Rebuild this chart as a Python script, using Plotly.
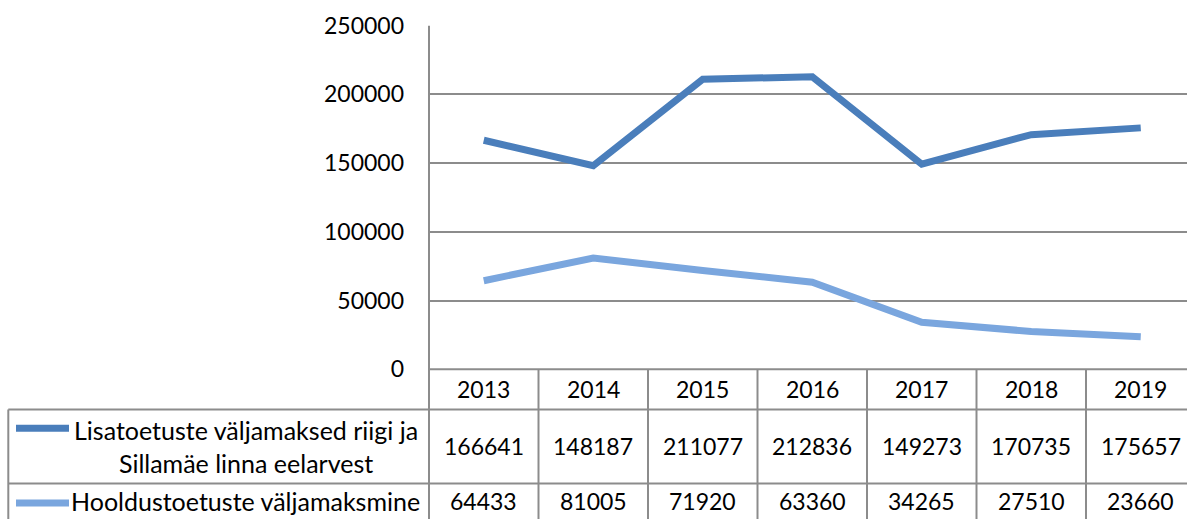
import plotly.graph_objects as go

years = ["2013", "2014", "2015", "2016", "2017", "2018", "2019"]
series1_name = "Lisatoetuste väljamaksed riigi ja<br>Sillamäe linna eelarvest"
series1 = [166641, 148187, 211077, 212836, 149273, 170735, 175657]
series2_name = "Hooldustoetuste väljamaksmine"
series2 = [64433, 81005, 71920, 63360, 34265, 27510, 23660]
yticks = [0, 50000, 100000, 150000, 200000, 250000]

W, H = 1187, 519
C1 = "#4a7ebb"
C2 = "#7aa6de"
GRID = "#8c8c8c"
FONT = "Lato"
FS = 23
FS_LBL = 25

def px(x):
    return x / W

def py(y):
    return 1 - y / H

fig = go.Figure()
xs = list(range(len(years)))
fig.add_trace(go.Scatter(x=xs, y=series1, mode="lines",
                         line=dict(color=C1, width=7), showlegend=False))
fig.add_trace(go.Scatter(x=xs, y=series2, mode="lines",
                         line=dict(color=C2, width=7), showlegend=False))

shapes = []
ann = []
top_y, zero_y, r1_y, r2_y = 25.7, 369.3, 409.5, 483.5
left_x, col_x = 8.3, 429

shapes.append(dict(type="line", xref="paper", yref="paper", x0=px(col_x), x1=1,
                   y0=py(zero_y), y1=py(zero_y), line=dict(color=GRID, width=2)))
for yy in (r1_y, r2_y):
    shapes.append(dict(type="line", xref="paper", yref="paper", x0=px(left_x), x1=1,
                       y0=py(yy), y1=py(yy), line=dict(color=GRID, width=2)))
shapes.append(dict(type="line", xref="paper", yref="paper", x0=px(left_x), x1=px(left_x),
                   y0=py(r1_y), y1=0, line=dict(color=GRID, width=2)))
shapes.append(dict(type="line", xref="paper", yref="paper", x0=px(col_x), x1=px(col_x),
                   y0=py(top_y), y1=0, line=dict(color=GRID, width=2)))
for i in range(1, len(years)):
    shapes.append(dict(type="line", xref="x", yref="paper", x0=i - 0.5, x1=i - 0.5,
                       y0=py(zero_y), y1=0, line=dict(color=GRID, width=2)))

for yy, c in ((428.3, C1), (503, C2)):
    shapes.append(dict(type="line", xref="paper", yref="paper", x0=px(16), x1=px(69),
                       y0=py(yy), y1=py(yy), line=dict(color=c, width=7)))

def txt(x, y, t, xref="x", size=FS):
    return dict(x=x, y=y, xref=xref, yref="paper", text=t, showarrow=False,
                xanchor="center", yanchor="middle", align="center",
                font=dict(family=FONT, size=size, color="black"))

for i, yr in enumerate(years):
    ann.append(txt(i, py(389), yr))
    ann.append(txt(i, py(446), str(series1[i])))
    ann.append(txt(i, py(501), str(series2[i])))

ann.append(txt(px(245.5), py(446), series1_name, xref="paper", size=FS_LBL))
ann.append(txt(px(245.5), py(501), series2_name, xref="paper", size=FS_LBL))

fig.update_layout(
    width=W, height=H,
    margin=dict(l=0, r=0, t=0, b=0),
    paper_bgcolor="white", plot_bgcolor="white",
    shapes=shapes, annotations=ann,
    font=dict(family=FONT, size=FS, color="black"),
    xaxis=dict(domain=[px(col_x), 1], range=[-0.5, -0.5 + (W - col_x) / 109.5],
               showticklabels=False, showgrid=False, zeroline=False, showline=False,
               fixedrange=True),
    yaxis=dict(domain=[py(zero_y), py(top_y)], range=[0, 250000], tickvals=yticks,
               ticktext=[str(v) for v in yticks], showgrid=True, gridcolor=GRID,
               gridwidth=2, zeroline=False, showline=False, ticks="", ticklen=0,
               tickfont=dict(family=FONT, size=FS, color="black"), automargin=False,
               fixedrange=True, ticklabelstandoff=24),
)

fig.write_html("out.html", config={"displayModeBar": False},
               post_script="document.body.style.margin='0';document.body.style.overflow='hidden';")
